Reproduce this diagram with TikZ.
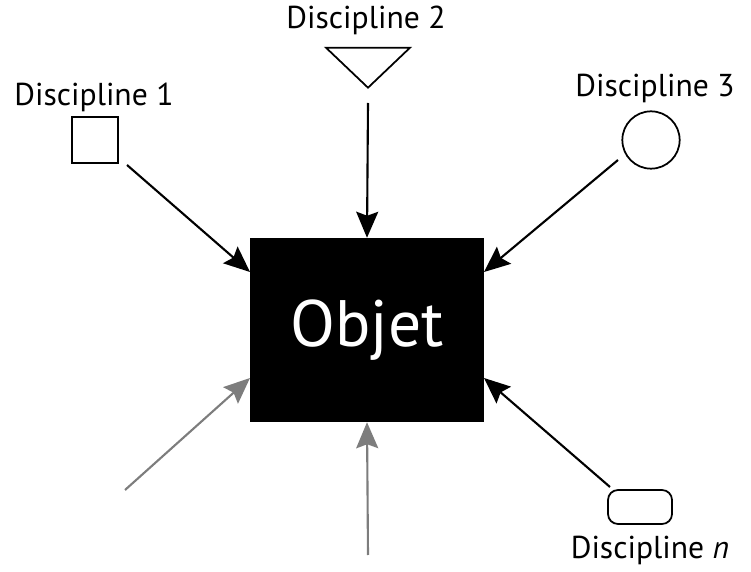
\documentclass[tikz,border=0pt]{standalone}
\usepackage{fontspec}
\setmainfont{PT Sans}
\usetikzlibrary{arrows.meta,shapes.geometric}

\definecolor{fadegray}{RGB}{125,125,125}

\begin{document}
\begin{tikzpicture}[x=0.03cm,y=-0.03cm,
    figure/.style={draw,line width=1.5pt,inner sep=0pt},
    lbl/.style={font=\fontsize{27}{32}\selectfont},
    feed/.style={line width=1.8pt,-{Stealth[length=0.78cm,width=0.66cm,inset=0.12cm]}}]
    \useasboundingbox (0,0) rectangle (751,572);
    % central object
    \node[fill=black,text=white,minimum width=7.02cm,minimum height=5.52cm,
          font=\fontsize{56}{60}\selectfont] (box) at (367,330) {Objet};
    % disciplines
    \node[figure,minimum size=1.36cm] (sq1) at (95,140) {};
    \node[figure,isosceles triangle,isosceles triangle stretches,shape border rotate=270,
          minimum width=2.52cm,minimum height=1.2cm,anchor=apex] (tri2) at (368,90) {};
    \node[figure,circle,minimum size=1.72cm] (circ3) at (651,140) {};
    \node[figure,rounded corners=0.3cm,minimum width=1.92cm,minimum height=1.02cm] (rnd) at (640,507) {};
    \node[lbl] (d1) at (94,97) {Discipline 1};
    \node[lbl] (d2) at (366,20) {Discipline 2};
    \node[lbl] (d3) at (655,88) {Discipline 3};
    \node[lbl] (dn) at (650,550) {Discipline \textit{n}};
    % arrow ends
    \coordinate (s1) at (127,165);
    \coordinate (s2) at (368,103);
    \coordinate (s3) at (618,160);
    \coordinate (s4) at (125,490);
    \coordinate (s5) at (368,555);
    \coordinate (s6) at (610,487);
    \coordinate (e1) at (250,272);
    \coordinate (e3) at (484,272);
    \coordinate (e4) at (250,378);
    \coordinate (e6) at (484,378);
    \draw[feed] (s1) -- (e1);
    \draw[feed] (s2) -- (box.north);
    \draw[feed] (s3) -- (e3);
    \draw[feed,fadegray] (s4) -- (e4);
    \draw[feed,fadegray] (s5) -- (box.south);
    \draw[feed] (s6) -- (e6);
\end{tikzpicture}
\end{document}
